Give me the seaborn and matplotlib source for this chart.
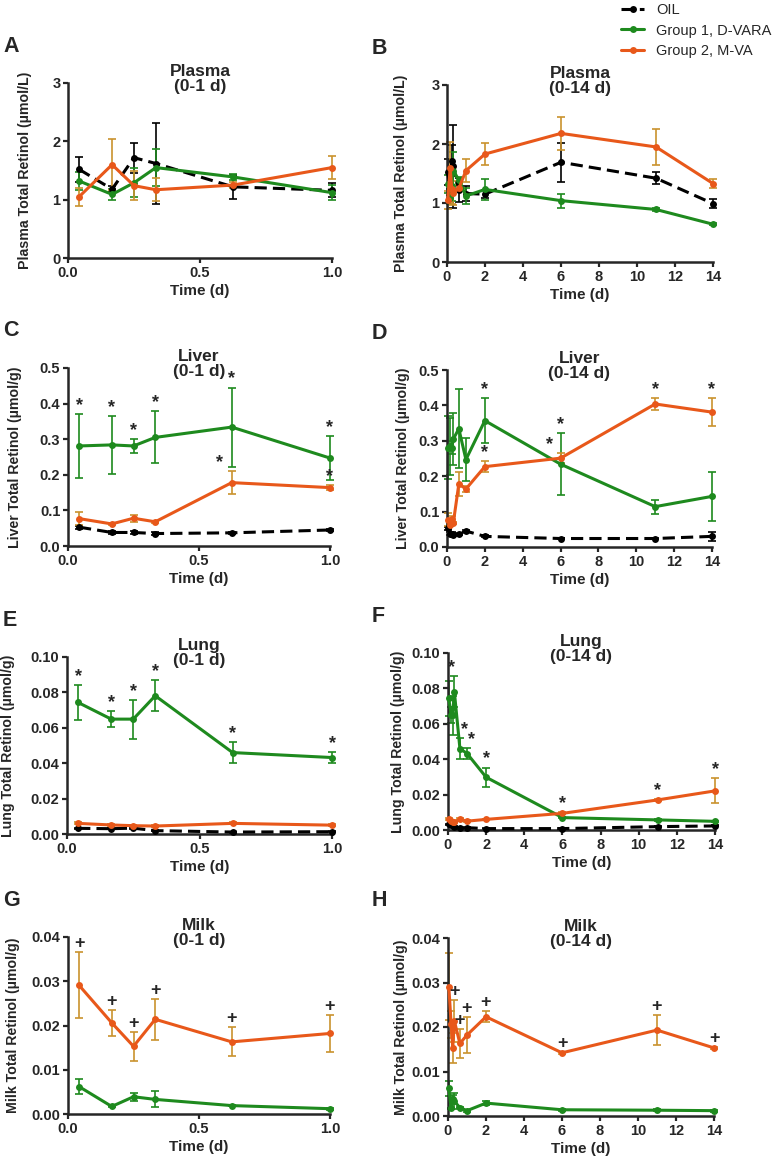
import numpy as np
import pandas as pd
import seaborn as sns
import matplotlib.pyplot as plt
from matplotlib.lines import Line2D

sns.set_style('ticks')
plt.rcParams['font.family'] = ['Liberation Sans', 'DejaVu Sans']
plt.rcParams['font.weight'] = 'bold'

# time points (d)
times = [0.042, 0.167, 0.25, 0.333, 0.625, 1.0, 2, 6, 11, 14]
n_short = 6

# Plasma (umol/L)
plasma_oil = [1.52, 1.18, 1.72, 1.62, 1.22, 1.16, 1.15, 1.69, 1.42, 0.99]
plasma_oil_err = [0.22, 0.05, 0.26, 0.70, 0.20, 0.12, 0.07, 0.33, 0.10, 0.07]
plasma_dvara = [1.32, 1.09, 1.29, 1.55, 1.39, 1.12, 1.23, 1.04, 0.89, 0.64]
plasma_dvara_err = [0.15, 0.10, 0.25, 0.32, 0.05, 0.13, 0.18, 0.12, 0.02, 0.02]
plasma_mva = [1.05, 1.60, 1.24, 1.17, 1.25, 1.55, 1.83, 2.18, 1.95, 1.33]
plasma_mva_err = [0.15, 0.44, 0.25, 0.20, 0.05, 0.20, 0.18, 0.28, 0.31, 0.07]

# Liver (umol/g)
liver_oil = [0.053, 0.038, 0.038, 0.035, 0.037, 0.045, 0.030, 0.024, 0.024, 0.030]
liver_oil_err = [0.004, 0.003, 0.003, 0.003, 0.002, 0.003, 0.003, 0.002, 0.002, 0.013]
liver_dvara = [0.281, 0.284, 0.281, 0.305, 0.334, 0.247, 0.357, 0.234, 0.114, 0.143]
liver_dvara_err = [0.089, 0.081, 0.019, 0.073, 0.111, 0.061, 0.063, 0.087, 0.020, 0.069]
liver_mva = [0.077, 0.062, 0.078, 0.068, 0.178, 0.164, 0.227, 0.251, 0.404, 0.381]
liver_mva_err = [0.018, 0.004, 0.010, 0.003, 0.033, 0.008, 0.015, 0.015, 0.018, 0.040]

# Lung (umol/g)
lung_oil = [0.0032, 0.0030, 0.0033, 0.0019, 0.0011, 0.0013, 0.0008, 0.0008, 0.0019, 0.0023]
lung_oil_err = [0.0003] * 10
lung_dvara = [0.0743, 0.0649, 0.0649, 0.0781, 0.0460, 0.0432, 0.0298, 0.0070, 0.0057, 0.0049]
lung_dvara_err = [0.0098, 0.0045, 0.0110, 0.0087, 0.0060, 0.0030, 0.0055, 0.0005, 0.0004, 0.0004]
lung_mva = [0.0060, 0.0051, 0.0047, 0.0045, 0.0060, 0.0050, 0.0060, 0.0094, 0.0170, 0.0221]
lung_mva_err = [0.0005, 0.0004, 0.0004, 0.0004, 0.0005, 0.0004, 0.0004, 0.0005, 0.0006, 0.0070]

# Milk (umol/g), no OIL group
milk_dvara = [0.0062, 0.0017, 0.0039, 0.0033, 0.0019, 0.0012, 0.0029, 0.0014, 0.0013, 0.0012]
milk_dvara_err = [0.0016, 0.0002, 0.0009, 0.0018, 0.0002, 0.0002, 0.0005, 0.0002, 0.0002, 0.0002]
milk_mva = [0.0291, 0.0206, 0.0153, 0.0214, 0.0163, 0.0182, 0.0223, 0.0142, 0.0193, 0.0153]
milk_mva_err = [0.0075, 0.0030, 0.0033, 0.0047, 0.0033, 0.0041, 0.0012, 0.0002, 0.0034, 0.0002]

group_names = ['OIL', 'Group 1, D-VARA', 'Group 2, M-VA']

# significance marks: (time, group, symbol, x shift in points)
marks_liver_short = [(t, 'dvara', '*', 0) for t in times[:6]] + [(0.625, 'mva', '*', -9), (1.0, 'mva', '*', 0)]
marks_liver_long = [(2, 'dvara', '*', 0), (2, 'mva', '*', 0), (6, 'dvara', '*', 0), (6, 'mva', '*', -8),
                    (11, 'mva', '*', 0), (14, 'mva', '*', 0)]
marks_lung_short = [(t, 'dvara', '*', 0) for t in times[:6]]
marks_lung_long = [(0.333, 'dvara', '*', -2), (0.625, 'dvara', '*', 3), (1.0, 'dvara', '*', 3),
                   (2, 'dvara', '*', 0), (6, 'mva', '*', 0), (11, 'mva', '*', 0), (14, 'mva', '*', 0)]
marks_milk_short = [(t, 'mva', '+', 0) for t in times[:6]]
marks_milk_long = [(t, 'mva', '+', 0) for t in [0.333, 0.625, 1.0, 2, 6, 11, 14]]

col = {'oil': '#000000', 'dvara': '#1E8A1E', 'mva': '#E8581A'}
ecol = {'oil': '#000000', 'dvara': '#1E8A1E', 'mva': '#C9922E'}
ls = {'oil': (0, (4, 2)), 'dvara': '-', 'mva': '-'}

tissues = {
    'Plasma': {'oil': (plasma_oil, plasma_oil_err), 'dvara': (plasma_dvara, plasma_dvara_err),
               'mva': (plasma_mva, plasma_mva_err)},
    'Liver': {'oil': (liver_oil, liver_oil_err), 'dvara': (liver_dvara, liver_dvara_err),
              'mva': (liver_mva, liver_mva_err)},
    'Lung': {'oil': (lung_oil, lung_oil_err), 'dvara': (lung_dvara, lung_dvara_err),
             'mva': (lung_mva, lung_mva_err)},
    'Milk': {'dvara': (milk_dvara, milk_dvara_err), 'mva': (milk_mva, milk_mva_err)},
}

# panel layout in pixels: letter, tissue, short/long, (left, top, right, bottom), ylabel right edge
W, H = 780, 1161
panels = [
    ('A', 'Plasma', False, (68, 83, 332, 258), 32, 3, 1, '(µmol/L)', '{:.0f}', None),
    ('B', 'Plasma', True, (447, 85, 713, 262), 408, 3, 1, '(µmol/L)', '{:.0f}', None),
    ('C', 'Liver', False, (68, 368, 330, 546), 22, 0.5, 0.1, '(µmol/g)', '{:.1f}', marks_liver_short),
    ('D', 'Liver', True, (447, 370, 712, 547), 410, 0.5, 0.1, '(µmol/g)', '{:.1f}', marks_liver_long),
    ('E', 'Lung', False, (67, 657, 332, 834), 15, 0.10, 0.02, '(µmol/g)', '{:.2f}', marks_lung_short),
    ('F', 'Lung', True, (448, 653, 715, 830), 405, 0.10, 0.02, '(µmol/g)', '{:.2f}', marks_lung_long),
    ('G', 'Milk', False, (68, 937, 330, 1114), 20, 0.04, 0.01, '(µmol/g)', '{:.2f}', marks_milk_short),
    ('H', 'Milk', True, (448, 938, 714, 1116), 408, 0.04, 0.01, '(µmol/g)', '{:.2f}', marks_milk_long),
]

fig = plt.figure(figsize=(W / 100, H / 100), dpi=100)

for letter, tissue, long_range, box, ylab_x, ymax, ystep, unit, fmt, marks in panels:
    l, t, r, b = box
    ax = fig.add_axes([l / W, 1 - b / H, (r - l) / W, (b - t) / H])
    n = len(times) if long_range else n_short
    x = np.array(times[:n])
    for key in ['oil', 'dvara', 'mva']:
        if key not in tissues[tissue]:
            continue
        m, e = tissues[tissue][key]
        df = pd.DataFrame({'Time': x, 'Value': m[:n], 'Err': e[:n]})
        ax.errorbar(df['Time'], df['Value'], yerr=df['Err'], fmt='none', ecolor=ecol[key],
                    elinewidth=1.2, capsize=2.8, capthick=1.2, zorder=2, clip_on=False)
        sns.lineplot(data=df, x='Time', y='Value', ax=ax, color=col[key], linestyle=ls[key],
                     linewidth=2.2, marker='o', markersize=5, markeredgewidth=0,
                     errorbar=None, zorder=3, clip_on=False)
    if marks:
        for tm, key, sym, dx in marks:
            i = times.index(tm)
            m, e = tissues[tissue][key]
            ax.annotate(sym, xy=(tm, m[i] + e[i]), xytext=(dx, 0), textcoords='offset points',
                        ha='center', va='bottom', fontsize=13, fontweight='bold', annotation_clip=False)

    if long_range:
        ax.set_xlim(0, 14)
        ax.set_xticks(range(0, 15, 2))
    else:
        ax.set_xlim(0, 1)
        ax.set_xticks([0, 0.5, 1.0])
        ax.set_xticklabels(['0.0', '0.5', '1.0'])
    yt = np.arange(0, ymax + ystep / 2, ystep)
    ax.set_ylim(0, ymax)
    ax.set_yticks(yt)
    ax.set_yticklabels([fmt.format(v) for v in yt])
    sns.despine(ax=ax)
    for s in ['left', 'bottom']:
        ax.spines[s].set_linewidth(1.8)
    ax.tick_params(width=1.6, length=3.5, labelsize=10.5, pad=2)
    for lab in ax.get_xticklabels() + ax.get_yticklabels():
        lab.set_fontweight('bold')
    ax.set_xlabel('Time (d)', fontsize=11, fontweight='bold', labelpad=3)
    ax.set_ylabel(tissue + ' Total Retinol ' + unit, fontsize=10.2, fontweight='bold')
    ax.yaxis.set_label_coords((ylab_x - l) / (r - l), 0.5)
    ax.text(0.5, 1 + 19 / (b - t), tissue + '\n' + ('(0-14 d)' if long_range else '(0-1 d)'),
            transform=ax.transAxes, ha='center', va='top', fontsize=12.5, fontweight='bold',
            linespacing=1.0)
    lx = 3 if l < 200 else 372
    fig.text(lx / W, 1 - (t - 37) / H, letter, fontsize=15.5, fontweight='bold', ha='left', va='center')

handles = [Line2D([], [], color=col[k], linestyle=ls[k], linewidth=2.2, marker='o', markersize=5,
                  markeredgewidth=0) for k in ['oil', 'dvara', 'mva']]
leg = fig.legend(handles, group_names, loc='upper left', bbox_to_anchor=(621 / W, 1 - 3 / H),
                 frameon=False, fontsize=10.5, handlelength=1.6, handletextpad=0.8,
                 labelspacing=0.45, borderpad=0, borderaxespad=0)
for txt in leg.get_texts():
    txt.set_fontweight('normal')

plt.savefig('out.png', dpi=100)
